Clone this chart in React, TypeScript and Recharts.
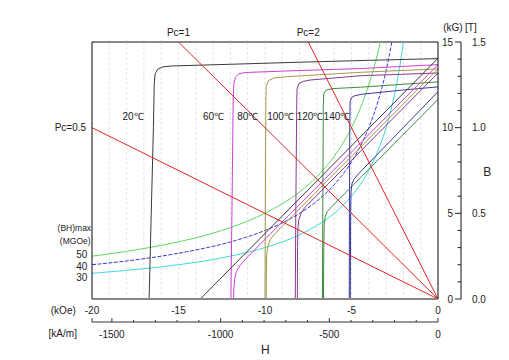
import { LineChart, Line, XAxis, YAxis, CartesianGrid, ReferenceLine, ReferenceDot } from 'recharts';

type Pt = [number, number]; // [H, B (kG)]

// axis ticks
const koeTicks = [-20, -19, -18, -17, -16, -15, -14, -13, -12, -11, -10, -9, -8, -7, -6, -5, -4, -3, -2, -1, 0];
const siTicks = [-1591.5, -1500, -1400, -1300, -1200, -1100, -1000, -900, -800, -700, -600, -500, -400, -300, -200, -100, 0];
const kgTicks = [0, 1, 2, 3, 4, 5, 6, 7, 8, 9, 10, 11, 12, 13, 14, 15];
const teslaTicks = [0, 0.5, 1.0, 1.5];

// (BH)max iso-energy curves, MGOe (H in kOe)
const bh50: Pt[] = [[-20, 2.5], [-18, 2.78], [-16, 3.13], [-14, 3.57], [-12, 4.17], [-10, 5.0], [-9, 5.56], [-8, 6.25], [-7, 7.14], [-6, 8.33], [-5.5, 9.09], [-5, 10.0], [-4.5, 11.11], [-4, 12.5], [-3.7, 13.51], [-3.33, 15.0]];
const bh40: Pt[] = [[-20, 2.0], [-18, 2.22], [-16, 2.5], [-14, 2.86], [-12, 3.33], [-10, 4.0], [-9, 4.44], [-8, 5.0], [-7, 5.71], [-6, 6.67], [-5, 8.0], [-4.5, 8.89], [-4, 10.0], [-3.5, 11.43], [-3, 13.33], [-2.67, 15.0]];
const bh30: Pt[] = [[-20, 1.5], [-18, 1.67], [-16, 1.88], [-14, 2.14], [-12, 2.5], [-10, 3.0], [-8, 3.75], [-7, 4.29], [-6, 5.0], [-5, 6.0], [-4, 7.5], [-3.5, 8.57], [-3, 10.0], [-2.6, 11.54], [-2.3, 13.04], [-2.0, 15.0]];

// permeance lines (Pc=0.5 given in kA/m, drawn on the SI axis)
const pc05: Pt[] = [[-1591.5, 10], [0, 0]];
const pc1: Pt[] = [[-15, 15], [0, 0]];
const pc2: Pt[] = [[-7.5, 15], [0, 0]];

// intrinsic curves (kOe)
const j20: Pt[] = [[0, 14.03], [-4, 13.93], [-8, 13.82], [-12, 13.7], [-15.4, 13.6], [-15.9, 13.55], [-16.2, 13.42], [-16.35, 13.15], [-16.4, 12.6], [-16.45, 10], [-16.55, 6], [-16.65, 2], [-16.7, 0]];
const j60: Pt[] = [[0, 13.68], [-4.5, 13.45], [-9, 13.3], [-11.1, 13.22], [-11.5, 13.15], [-11.7, 12.95], [-11.8, 12.6], [-11.84, 11.5], [-11.9, 6], [-11.97, 0]];
const j80: Pt[] = [[0, 13.43], [-4.5, 13.23], [-8.8, 12.97], [-9.5, 12.9], [-9.8, 12.75], [-9.93, 12.4], [-9.95, 11.5], [-9.98, 5], [-10.0, 0]];
const j100: Pt[] = [[0, 13.19], [-4.5, 13.03], [-7.4, 12.78], [-7.8, 12.7], [-8.05, 12.55], [-8.15, 12.25], [-8.17, 11], [-8.22, 5], [-8.25, 0]];
const j120: Pt[] = [[0, 12.67], [-2.5, 12.5], [-4.5, 12.36], [-6.1, 12.28], [-6.45, 12.2], [-6.6, 12.0], [-6.63, 11.3], [-6.66, 5], [-6.68, 0]];
const j140: Pt[] = [[0, 12.38], [-2, 12.2], [-4.4, 11.95], [-4.8, 11.87], [-5.0, 11.75], [-5.08, 11.5], [-5.1, 10], [-5.12, 5], [-5.13, 0]];

// normal curves (kOe)
const b20: Pt[] = [[0, 14.05], [-13.74, 0]];
const b60: Pt[] = [[0, 13.68], [-11.1, 2.36], [-11.45, 1.95], [-11.65, 1.6], [-11.75, 1.2], [-11.8, 0.6], [-11.82, 0]];
const b80: Pt[] = [[0, 13.43], [-9.45, 3.79], [-9.7, 3.45], [-9.83, 3.1], [-9.9, 2.6], [-9.92, 1.5], [-9.93, 0]];
const b100: Pt[] = [[0, 13.19], [-7.7, 5.34], [-7.92, 5.0], [-8.05, 4.6], [-8.1, 4.1], [-8.12, 3.0], [-8.13, 0]];
const b120: Pt[] = [[0, 11.65], [-6.15, 5.38], [-6.4, 5.1], [-6.52, 4.8], [-6.58, 4.3], [-6.6, 3.0], [-6.62, 0]];
const b140: Pt[] = [[0, 12.1], [-4.6, 7.3], [-4.85, 7.0], [-4.98, 6.7], [-5.03, 6.2], [-5.05, 5.0], [-5.07, 0]];

const rows = (pts: Pt[]) => pts.map(([h, b]) => ({ h, b }));

const textColor = '#222';
const red = '#e02424';

const bhCurves = [
  { key: 'bh50', pts: bh50, color: '#5fd85f', dash: undefined },
  { key: 'bh40', pts: bh40, color: '#3c3cc8', dash: '4 1.5' },
  { key: 'bh30', pts: bh30, color: '#40d8d8', dash: undefined },
];

const tempCurves = [
  { key: '20', j: j20, b: b20, color: '#3a3a3a' },
  { key: '60', j: j60, b: b60, color: '#d040d0' },
  { key: '80', j: j80, b: b80, color: '#a09a48' },
  { key: '100', j: j100, b: b100, color: '#8a3a90' },
  { key: '120', j: j120, b: b120, color: '#3d8a3d' },
  { key: '140', j: j140, b: b140, color: '#3a3aa0' },
];

const KoeTick = ({ x, y, payload }: any) =>
  payload.value % 5 === 0 ? (
    <text x={x} y={y + 15} textAnchor="middle" fontSize={10} fill={textColor}>{payload.value}</text>
  ) : <g />;

const SiTick = ({ x, y, payload }: any) => {
  const v = payload.value;
  const labelled = v % 500 === 0;
  const major = labelled || v < -1550;
  return (
    <g>
      <line x1={x} x2={x} y1={y} y2={y - (major ? 4 : 2)} stroke="#333" />
      {labelled && <text x={x} y={y + 16} textAnchor="middle" fontSize={10} fill={textColor}>{v}</text>}
    </g>
  );
};

const KgTick = ({ x, y, payload }: any) => {
  const v = payload.value;
  const major = v % 5 === 0;
  return (
    <g>
      <line x1={x + (major ? 17 : 19.5)} x2={x + 23} y1={y} y2={y} stroke="#222" />
      {major && <text x={x + 15} y={y + 3.5} textAnchor="end" fontSize={10} fill={textColor}>{v}</text>}
    </g>
  );
};

const Note = ({ x, y, text, size = 10 }: { x: number; y: number; text: string; size?: number }) => (
  <ReferenceDot
    xAxisId="koe"
    yAxisId="left"
    x={x}
    y={y}
    r={0}
    stroke="none"
    fill="none"
    ifOverflow="visible"
    label={{ value: text, position: 'center', fontSize: size, fill: textColor }}
  />
);

export default function App() {
  return (
    <div style={{ position: 'absolute', left: 0, top: 0, width: 509, height: 360, background: '#fff', fontFamily: '"Liberation Sans", Arial, sans-serif' }}>
      <LineChart width={509} height={360} margin={{ top: 42, right: 0, bottom: 0, left: 0 }}>
        <CartesianGrid xAxisId="koe" yAxisId="left" stroke="#e4e4e4" strokeDasharray="3 2" />
        <XAxis xAxisId="koe" dataKey="h" type="number" domain={[-20, 0]} ticks={koeTicks} interval={0}
          height={23} tickSize={0} tickMargin={0} tick={KoeTick} axisLine={{ stroke: '#888', strokeWidth: 2 }} allowDataOverflow />
        <XAxis xAxisId="si" dataKey="h" type="number" domain={[-1591.5, 0]} ticks={siTicks} interval={0}
          height={38} tickSize={0} tickMargin={0} tick={SiTick} axisLine={{ stroke: '#333' }} allowDataOverflow />
        <YAxis yAxisId="left" type="number" domain={[0, 15]} ticks={kgTicks} width={92} tick={false} tickLine={false}
          axisLine={{ stroke: '#111' }} allowDataOverflow />
        <YAxis yAxisId="r1" orientation="right" type="number" domain={[0, 15]} ticks={kgTicks} interval={0} width={23}
          tickSize={0} tickMargin={0} tick={KgTick} axisLine={{ stroke: '#111' }} allowDataOverflow />
        <YAxis yAxisId="r2" orientation="right" type="number" domain={[0, 1.5]} ticks={teslaTicks} interval={0} width={48}
          tickLine={false} tickMargin={5} tickFormatter={(v: number) => v.toFixed(1)}
          tick={{ fontSize: 10, fill: textColor }} axisLine={{ stroke: '#111' }} allowDataOverflow />

        <ReferenceLine xAxisId="koe" yAxisId="left" y={15} stroke="#888" strokeWidth={2} />

        {bhCurves.map((c) => (
          <Line key={c.key} xAxisId="koe" yAxisId="left" data={rows(c.pts)} dataKey="b" type="monotone"
            stroke={c.color} strokeWidth={1} strokeDasharray={c.dash} dot={false} activeDot={false} isAnimationActive={false} />
        ))}
        {tempCurves.map((c) => (
          <Line key={'j' + c.key} xAxisId="koe" yAxisId="left" data={rows(c.j)} dataKey="b" type="linear"
            stroke={c.color} strokeWidth={1} dot={false} activeDot={false} isAnimationActive={false} />
        ))}
        {tempCurves.map((c) => (
          <Line key={'b' + c.key} xAxisId="koe" yAxisId="left" data={rows(c.b)} dataKey="b" type="linear"
            stroke={c.color} strokeWidth={1} dot={false} activeDot={false} isAnimationActive={false} />
        ))}
        <Line xAxisId="si" yAxisId="left" data={rows(pc05)} dataKey="b" type="linear"
          stroke={red} strokeWidth={1} dot={false} activeDot={false} isAnimationActive={false} />
        {[pc1, pc2].map((p, i) => (
          <Line key={'pc' + i} xAxisId="koe" yAxisId="left" data={rows(p)} dataKey="b" type="linear"
            stroke={red} strokeWidth={1} dot={false} activeDot={false} isAnimationActive={false} />
        ))}

        <ReferenceDot xAxisId="koe" yAxisId="left" x={-15} y={15} r={0} stroke="none" fill="none" ifOverflow="visible"
          label={{ value: 'Pc=1', position: 'top', offset: 6, fontSize: 10, fill: textColor }} />
        <ReferenceDot xAxisId="koe" yAxisId="left" x={-7.5} y={15} r={0} stroke="none" fill="none" ifOverflow="visible"
          label={{ value: 'Pc=2', position: 'top', offset: 6, fontSize: 10, fill: textColor }} />
        <Note x={-21.25} y={10.0} text="Pc=0.5" />

        <Note x={-17.63} y={10.66} text="20℃" />
        <Note x={-12.97} y={10.66} text="60℃" />
        <Note x={-11.0} y={10.66} text="80℃" />
        <Note x={-9.1} y={10.66} text="100℃" />
        <Note x={-7.4} y={10.66} text="120℃" />
        <Note x={-5.84} y={10.66} text="140℃" />

        <Note x={-21.02} y={4.16} text="(BH)max" size={8.5} />
        <Note x={-20.97} y={3.37} text="(MGOe)" size={8.5} />
        <Note x={-20.59} y={2.59} text="50" />
        <Note x={-20.59} y={1.91} text="40" />
        <Note x={-20.59} y={1.24} text="30" />

        <Note x={-21.66} y={-0.65} text="(kOe)" />
        <Note x={-21.69} y={-2.03} text="[kA/m]" />
        <Note x={-9.98} y={-2.96} text="H" size={12} />
        <Note x={0.86} y={15.84} text="(kG)" />
        <Note x={1.9} y={15.84} text="[T]" />
        <Note x={2.85} y={7.43} text="B" size={12} />
      </LineChart>
    </div>
  );
}
